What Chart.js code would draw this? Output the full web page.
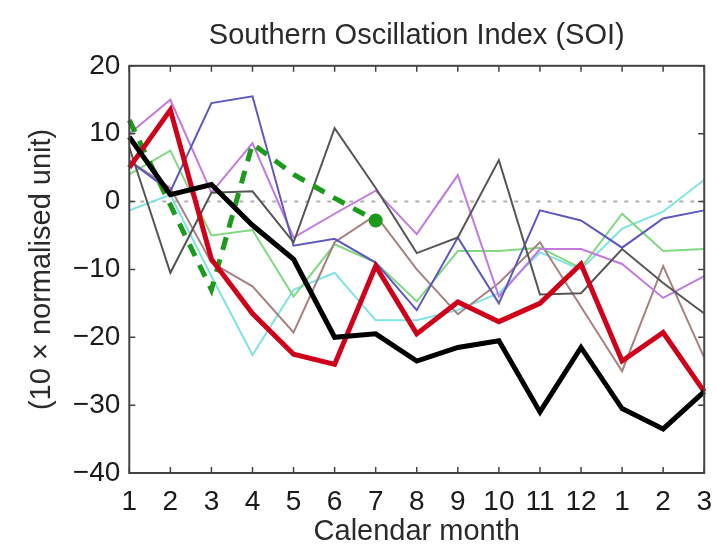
<!DOCTYPE html>
<html>
<head>
<meta charset="utf-8">
<script src="https://cdn.jsdelivr.net/npm/chart.js@4.4.1/dist/chart.umd.min.js"></script>
<style>
  html, body { margin:0; padding:0; background:#fff; }
  #soi { display:block; }
</style>
</head>
<body>
<canvas id="soi" width="717" height="552"></canvas>
<script>
// calendar months, Jan of year 0 through Mar of year +1
const months = ['1','2','3','4','5','6','7','8','9','10','11','12','1','2','3'];
const yTicks = [-40, -30, -20, -10, 0, 10, 20];

// thick highlighted years
const soiBlack = [9.5, 1, 2.5, -3.5, -8.5, -20, -19.5, -23.5, -21.5, -20.5, -31, -21.5, -30.5, -33.5, -28];
const soiRed   = [5, 13.5, -8.5, -16.5, -22.5, -24, -9.5, -19.5, -14.8, -17.7, -15, -9.2, -23.5, -19.3, -28];
const soiGreen = [12, -0.5, -13, 8.5, 4, 0.5, -2.8, null, null, null, null, null, null, null, null];

// thin background years
const soiSlate  = [6, 1.5, 14.5, 15.5, -6.5, -5.5, -9, -16, -5.3, -15, -1.3, -2.8, -6.8, -2.5, -1.3];
const soiViolet = [10, 15, 1.3, 8.6, -5.3, -1.8, 1.6, -4.8, 3.9, -14, -7, -7, -9.2, -14.2, -11];
const soiGray   = [8, -10.5, 1.3, 1.5, -6, 10.8, 2, -7.6, -5.3, 6.1, -13.7, -13.5, -7, -12, -16.5];
const soiLtGrn  = [4, 7.5, -5, -4.2, -14, -6.3, -9, -14.7, -7.3, -7.3, -6.8, -9.8, -1.8, -7.3, -7];
const soiCyan   = [-1.3, 1, -11, -22.6, -13, -10.5, -17.5, -17.5, -16, -13.5, -7.5, -10, -4, -1.5, 3.2];
const soiBrown  = [6, 2, -9, -12.5, -19.3, -6, -2, -10, -16.6, -12, -6, -15.5, -25, -9.5, -23];

const FONT = "'Liberation Sans', Arial, Helvetica, sans-serif";

const thin = (data, color) => ({ data, borderColor:color, borderWidth:2, pointRadius:0, tension:0, fill:false });

// matlab style box: zero line, frame and inward ticks; title centred over the axes
const boxPlugin = {
  id: 'box',
  afterLayout(chart) {
    const t = chart.titleBlock, a = chart.chartArea;
    if (t) { t.left = a.left; t.right = a.right; t.width = a.right - a.left; }
  },
  beforeDatasetsDraw(chart) {
    const { ctx, chartArea:a, scales:{ y } } = chart;
    const y0 = y.getPixelForValue(0);
    ctx.save();
    ctx.strokeStyle = '#b0b0b0';
    ctx.lineWidth = 2;
    ctx.setLineDash([4, 7]);
    ctx.beginPath(); ctx.moveTo(a.left, y0); ctx.lineTo(a.right, y0); ctx.stroke();
    ctx.restore();
  },
  afterDatasetsDraw(chart) {
    const { ctx, chartArea:a, scales:{ x, y } } = chart;
    ctx.save();
    ctx.strokeStyle = '#444';
    ctx.lineWidth = 2;
    ctx.strokeRect(a.left, a.top, a.right - a.left, a.bottom - a.top);
    ctx.lineWidth = 1.5;
    ctx.beginPath();
    months.forEach((m, i) => {
      const px = x.getPixelForValue(i);
      ctx.moveTo(px, a.bottom); ctx.lineTo(px, a.bottom - 6);
      ctx.moveTo(px, a.top);    ctx.lineTo(px, a.top + 6);
    });
    yTicks.forEach(v => {
      const py = y.getPixelForValue(v);
      ctx.moveTo(a.left, py);  ctx.lineTo(a.left + 6, py);
      ctx.moveTo(a.right, py); ctx.lineTo(a.right - 6, py);
    });
    ctx.stroke();
    ctx.restore();
  }
};

new Chart(document.getElementById('soi'), {
  type: 'line',
  data: {
    labels: months,
    datasets: [
      { data:soiBlack, borderColor:'#000', borderWidth:5, pointRadius:0, tension:0 },
      { data:soiRed, borderColor:'#d0001a', borderWidth:5, pointRadius:0, tension:0 },
      { data:soiGreen, borderColor:'#1b9a1b', borderWidth:5, borderDash:[13, 10], tension:0,
        pointRadius:[0,0,0,0,0,0,7], pointBackgroundColor:'#1b9a1b', pointBorderWidth:0 },
      thin(soiGray,   '#555555'),
      thin(soiSlate,  '#5e58be'),
      thin(soiViolet, '#c27ade'),
      thin(soiBrown,  '#a88080'),
      thin(soiLtGrn,  '#80d880'),
      thin(soiCyan,   '#7fe3e3'),
    ]
  },
  options: {
    responsive: false,
    animation: false,
    devicePixelRatio: 1,
    layout: { padding: { left: 25, right: 3, top: 0, bottom: 6 } },
    plugins: {
      legend: { display:false },
      tooltip: { enabled:false },
      title: {
        display: true,
        text: 'Southern Oscillation Index (SOI)',
        color: '#2a2a2a',
        font: { family:FONT, size:29, weight:'normal' },
        padding: { top: 19, bottom: 12 }
      }
    },
    scales: {
      x: {
        offset: false,
        // invisible tick marks only push the labels down, the box plugin draws the real ones
        grid: { display:true, drawOnChartArea:false, drawTicks:true, tickLength:10, tickColor:'rgba(0,0,0,0)' },
        border: { display:false },
        ticks: { color:'#1a1a1a', font:{ family:FONT, size:28, lineHeight:1 }, padding:5, maxRotation:0, autoSkip:false },
        title: { display:true, text:'Calendar month', color:'#2a2a2a', font:{ family:FONT, size:29, lineHeight:1 }, padding:{ top:-4, bottom:0 } }
      },
      y: {
        min: -40, max: 20,
        afterBuildTicks: s => { s.ticks = yTicks.map(v => ({ value:v })); },
        grid: { display:false, drawTicks:false },
        border: { display:false },
        ticks: { color:'#1a1a1a', font:{ family:FONT, size:28 }, padding:9,
                 callback: v => String(v).replace('-', '\u2212') },
        title: { display:true, text:'(10 \u00d7 normalised unit)', color:'#2a2a2a', font:{ family:FONT, size:29 }, padding:{ top:0, bottom:4 } }
      }
    }
  },
  plugins: [boxPlugin]
});
</script>
</body>
</html>
